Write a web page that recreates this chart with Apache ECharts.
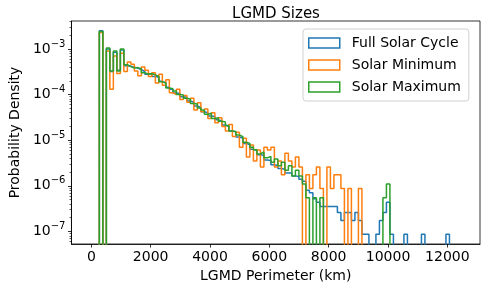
<!DOCTYPE html>
<html>
<head>
<meta charset="utf-8">
<script src="https://cdn.jsdelivr.net/npm/echarts@6/dist/echarts.min.js"></script>
<style>
  html, body { margin: 0; padding: 0; background: #fff; }
  #chart { width: 484px; height: 288px; }
</style>
</head>
<body>
<div id="chart"></div>
<script>
// histogram bins (km), 100 bins of equal width
var binStart = 270
var binWidth = 118

// probability density per bin (0 = empty bin)
var fullCycle = [
  2.5e-3, 0, 1.0e-3, 3.2e-4, 8.5e-4, 3.4e-4, 9.5e-4, 4.3e-4, 4.2e-4, 4.0e-4,
  3.8e-4, 3.5e-4, 3.2e-4, 2.8e-4, 2.85e-4, 2.5e-4, 2.4e-4, 1.95e-4, 1.8e-4, 1.45e-4,
  1.3e-4, 1.08e-4, 1.05e-4, 9.0e-5, 8.7e-5, 7.2e-5, 6.8e-5, 5.6e-5, 5.2e-5, 4.2e-5,
  4.0e-5, 3.4e-5, 3.3e-5, 2.8e-5, 2.6e-5, 2.15e-5, 2.0e-5, 1.6e-5, 1.5e-5, 1.18e-5,
  1.1e-5, 8.5e-6, 7.9e-6, 6.3e-6, 5.9e-6, 4.8e-6, 4.7e-6, 3.7e-6, 3.6e-6, 2.9e-6,
  2.8e-6, 2.4e-6, 2.3e-6, 1.9e-6, 1.9e-6, 1.65e-6, 1.6e-6, 1.4e-6, 1.26e-6, 8e-7,
  7e-7, 5.2e-7, 4.35e-7, 3.5e-7, 3.5e-7, 3.5e-7, 3.5e-7, 3.5e-7, 2.6e-7, 1.74e-7,
  2.6e-7, 2.6e-7, 1.74e-7, 2.6e-7, 1.74e-7, 8.7e-8, 8.7e-8, 0, 0, 8.7e-8,
  1.74e-7, 2.6e-7, 4.35e-7, 8.7e-8, 0, 0, 0, 8.7e-8, 0, 0,
  0, 0, 8.7e-8, 0, 0, 0, 0, 0, 0, 8.7e-8
]
var solarMin = [
  2.3e-3, 0, 9e-4, 1.3e-4, 7e-4, 2.9e-4, 8e-4, 3.2e-4, 5.2e-4, 4.6e-4,
  3.3e-4, 2.6e-4, 4.0e-4, 3.4e-4, 2.5e-4, 3.0e-4, 1.8e-4, 2.8e-4, 1.6e-4, 2.1e-4,
  1.1e-4, 1.0e-4, 1.3e-4, 7.8e-5, 9.5e-5, 6.8e-5, 8.3e-5, 4.6e-5, 6.6e-5, 4.2e-5,
  4.8e-5, 3.0e-5, 4.0e-5, 2.4e-5, 3.1e-5, 2.0e-5, 1.6e-5, 2.2e-5, 1.2e-5, 1.5e-5,
  7.0e-6, 1.1e-5, 4.3e-6, 7.8e-6, 3.5e-6, 6.1e-6, 2.6e-6, 7.0e-6, 6.1e-6, 7.0e-6,
  2.6e-6, 3.5e-6, 1.74e-6, 5.2e-6, 3.5e-6, 2.6e-6, 4.3e-6, 2.6e-6, 0, 1.74e-6,
  8.7e-7, 1.74e-6, 2.6e-6, 8.7e-7, 0, 2.6e-6, 8.7e-7, 1.74e-6, 1.74e-6, 8.7e-7,
  0, 8.7e-7, 0, 0, 8.7e-7, 0, 0, 0, 0, 0,
  0, 0, 0, 0, 0, 0, 0, 0, 0, 0,
  0, 0, 0, 0, 0, 0, 0, 0, 0, 0
]
var solarMax = [
  2.4e-3, 0, 1.05e-3, 3.3e-4, 9e-4, 3.3e-4, 1.0e-3, 4.5e-4, 4.1e-4, 3.8e-4,
  3.9e-4, 3.7e-4, 3.0e-4, 2.8e-4, 2.9e-4, 2.7e-4, 2.5e-4, 1.9e-4, 1.8e-4, 1.4e-4,
  1.35e-4, 1.2e-4, 1.0e-4, 9.8e-5, 8.3e-5, 7.9e-5, 6.4e-5, 6.2e-5, 5.1e-5, 4.6e-5,
  3.7e-5, 3.9e-5, 3.0e-5, 3.1e-5, 2.6e-5, 2.5e-5, 2.1e-5, 1.6e-5, 1.55e-5, 1.3e-5,
  1.2e-5, 9.0e-6, 8.5e-6, 7.0e-6, 6.2e-6, 5.0e-6, 5.5e-6, 4.1e-6, 4.4e-6, 3.3e-6,
  3.85e-6, 2.75e-6, 3.3e-6, 2.2e-6, 2.75e-6, 1.65e-6, 2.2e-6, 1.65e-6, 1.1e-6, 5.5e-7,
  0, 5.5e-7, 0, 5.5e-7, 0, 0, 0, 0, 0, 0,
  0, 0, 0, 0, 0, 0, 0, 0, 0, 0,
  0, 5.5e-7, 1.1e-6, 0, 0, 0, 0, 0, 0, 0,
  0, 0, 0, 0, 0, 0, 0, 0, 0, 0
]

var seriesNames = ['Full Solar Cycle', 'Solar Minimum', 'Solar Maximum']
var seriesColors = ['#1f77b4', '#ff7f0e', '#2ca02c']

var xTicks = [0, 2000, 4000, 6000, 8000, 10000, 12000]
var yTicks = [1e-7, 1e-6, 1e-5, 1e-4, 1e-3]

var yMin = 5.3e-8
var yMax = 4.1e-3
var floorVal = 1e-10 // empty bins drop below the axis, like matplotlib

// step outline for one histogram: up from the floor, across each bin, down at the end
function stepPoints(vals) {
  var pts = [[binStart, floorVal]]
  for (var i = 0; i < vals.length; i++) {
    pts.push([binStart + i * binWidth, vals[i] > 0 ? vals[i] : floorVal])
  }
  var last = vals[vals.length - 1] > 0 ? vals[vals.length - 1] : floorVal
  pts.push([binStart + vals.length * binWidth, last])
  pts.push([binStart + vals.length * binWidth, floorVal])
  return pts
}

// minor log ticks 2..9 x 10^n
var yMinor = []
for (var p = -8; p <= -3; p++) {
  for (var k = 2; k <= 9; k++) {
    var v = k * Math.pow(10, p)
    if (v > yMin && v < yMax) yMinor.push(v)
  }
}

var font = 'DejaVu Sans'
var chart = echarts.init(document.getElementById('chart'))
var allData = [fullCycle, solarMin, solarMax]

var option = {
  animation: false,
  textStyle: { fontFamily: font, color: '#000' },
  title: {
    text: 'LGMD Sizes',
    left: 271,
    textAlign: 'center',
    top: 2,
    textStyle: { fontFamily: font, fontSize: 15, fontWeight: 'normal', color: '#000' }
  },
  grid: {
    left: 63,
    right: 4,
    top: 21,
    bottom: 42,
    show: true,
    borderColor: '#000',
    borderWidth: 0.8,
    backgroundColor: '#fff'
  },
  legend: {
    orient: 'vertical',
    left: 303,
    top: 29,
    padding: [6, 8, 6, 5],
    itemWidth: 31,
    itemHeight: 10,
    itemGap: 6,
    backgroundColor: 'rgba(255,255,255,0.8)',
    borderColor: '#d0d0d0',
    borderWidth: 1,
    borderRadius: 3,
    textStyle: { fontFamily: font, fontSize: 14, color: '#000', lineHeight: 16, padding: [0, 0, 0, 7] },
    data: seriesNames.map(function (n, i) {
      return {
        name: n,
        icon: 'rect',
        itemStyle: { color: 'rgba(0,0,0,0)', borderColor: seriesColors[i], borderWidth: 1.5 }
      }
    })
  },
  xAxis: {
    type: 'value',
    min: -670,
    max: 13100,
    name: 'LGMD Perimeter (km)',
    nameLocation: 'middle',
    nameGap: 25,
    nameTextStyle: { fontFamily: font, fontSize: 14, color: '#000' },
    splitLine: { show: false },
    axisLine: { show: true, onZero: false, lineStyle: { color: '#000', width: 0.8 } },
    axisTick: { show: true, length: 3.5, lineStyle: { color: '#000', width: 0.8 }, customValues: xTicks },
    axisLabel: {
      customValues: xTicks,
      fontSize: 14,
      color: '#000',
      margin: 6,
      fontFamily: font,
      formatter: function (v) { return String(v) }
    }
  },
  yAxis: [
    {
      type: 'log',
      min: yMin,
      max: yMax,
      name: 'Probability Density',
      nameLocation: 'middle',
      nameGap: 46,
      nameTextStyle: { fontFamily: font, fontSize: 14, color: '#000' },
      splitLine: { show: false },
      axisLine: { show: true, onZero: false, lineStyle: { color: '#000', width: 0.8 } },
      axisTick: { show: true, length: 3.5, lineStyle: { color: '#000', width: 0.8 }, customValues: yTicks },
      axisLabel: {
        customValues: yTicks,
        margin: 6,
        formatter: function (v) {
          var e = Math.round(Math.log10(v))
          return '{b|10}{s|\u2212' + (-e) + '}'
        },
        rich: {
          b: { fontFamily: font, fontSize: 14, color: '#000', lineHeight: 20 },
          s: { fontFamily: font, fontSize: 10, color: '#000', lineHeight: 12, verticalAlign: 'top' }
        }
      }
    },
    {
      type: 'log',
      min: yMin,
      max: yMax,
      position: 'left',
      splitLine: { show: false },
      axisLine: { show: false, onZero: false },
      axisLabel: { show: false },
      axisTick: { show: true, length: 2, lineStyle: { color: '#000', width: 0.6 }, customValues: yMinor }
    }
  ],
  series: allData.map(function (d, i) {
    return {
      name: seriesNames[i],
      type: 'line',
      step: 'end',
      yAxisIndex: 0,
      showSymbol: false,
      symbol: 'none',
      clip: true,
      color: seriesColors[i],
      lineStyle: { color: seriesColors[i], width: 1.5 },
      itemStyle: { color: 'rgba(0,0,0,0)', borderColor: seriesColors[i], borderWidth: 1.5 },
      data: stepPoints(d)
    }
  })
}
chart.setOption(option)
</script>
</body>
</html>
